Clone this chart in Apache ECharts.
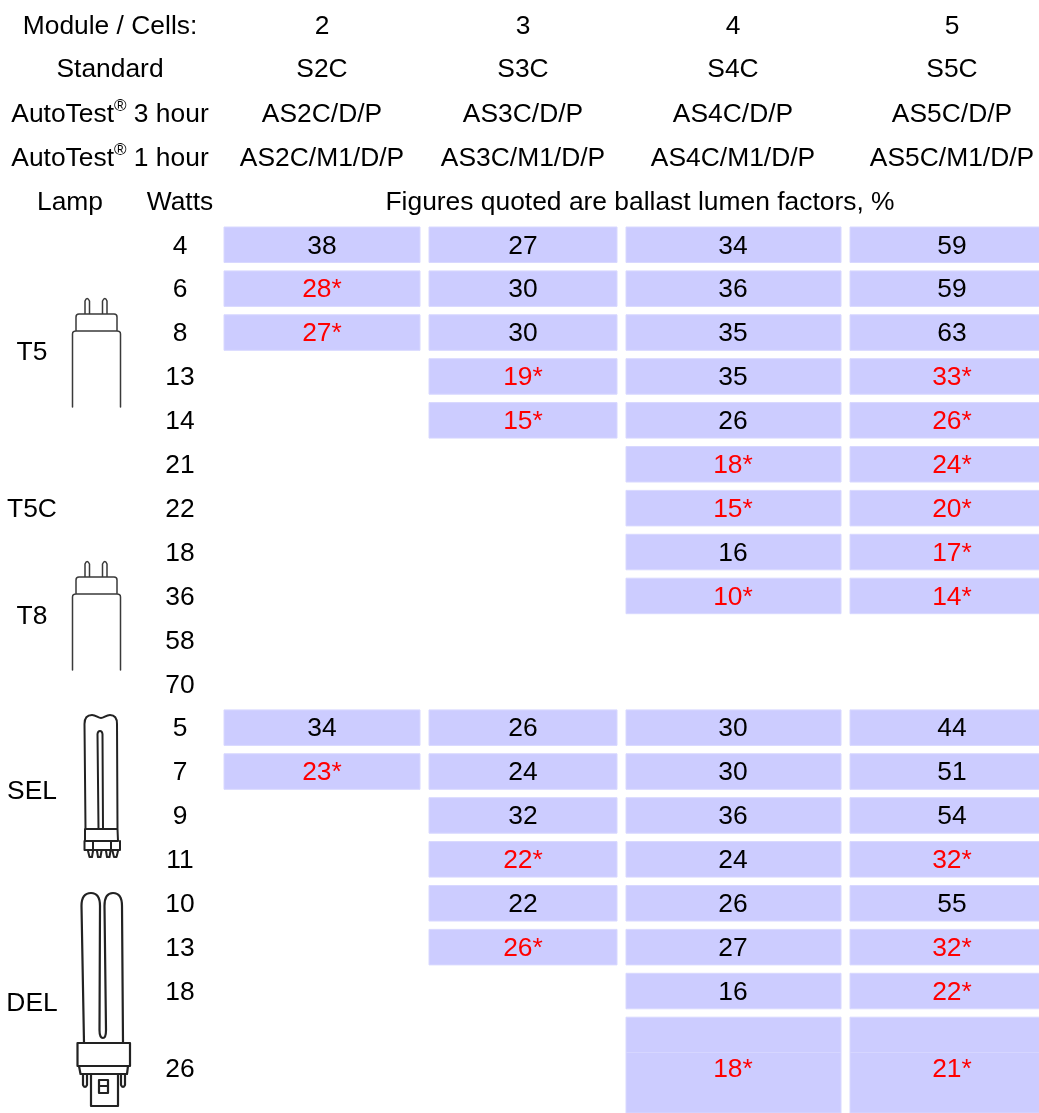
<!DOCTYPE html>
<html><head><meta charset="utf-8">
<style>html,body{margin:0;padding:0;background:#fff;overflow:hidden}#c{width:1039px;height:1113px}</style>
<script src="https://cdn.jsdelivr.net/npm/echarts@6/dist/echarts.min.js"></script>
</head><body><div id="c"></div>
<script>
// ---- table content ----
const moduleCells = ['2','3','4','5'];
const standard = ['S2C','S3C','S4C','S5C'];
const autoTest3 = ['AS2C/D/P','AS3C/D/P','AS4C/D/P','AS5C/D/P'];
const autoTest1 = ['AS2C/M1/D/P','AS3C/M1/D/P','AS4C/M1/D/P','AS5C/M1/D/P'];
const watts = [4,6,8,13,14,21,22,18,36,58,70,5,7,9,11,10,13,18,26];
const s2c = ['38','28*','27*',null,null,null,null,null,null,null,null,'34','23*',null,null,null,null,null,null];
const s3c = ['27','30','30','19*','15*',null,null,null,null,null,null,'26','24','32','22*','22','26*',null,null];
const s4c = ['34','36','35','35','26','18*','15*','16','10*',null,null,'30','30','36','24','26','27','16','18*'];
const s5c = ['59','59','63','33*','26*','24*','20*','17*','14*',null,null,'44','51','54','32*','55','32*','22*','21*'];
const lamps = ['T5','T5C','T8','SEL','DEL'];

// ---- layout (page units of the hidden axes) ----
const colLeft = [224,429,626,850], colRight = [420,617,841,1054];
const colText = [322,523,733,952];
const rowTop = i => 227 + 43.9*i;
const rowTextY = r => r===18 ? 1068 : rowTop(r)+17.8;
const headerY = [25,68,113,157,201];
const lampY = [351,508,615,790,1002];
const FONT = '"Liberation Sans", Arial, sans-serif';
const FS = 26.4;
const DY = 1.5;
const tables = [s2c,s3c,s4c,s5c];

const cellData = [];
tables.forEach((t,c)=>t.forEach((v,r)=>{ if(v!==null) cellData.push([c,r,v]); }));

const textData = [];
function addText(x,y,t){ textData.push([x,y,t]); }
addText(110,headerY[0],'Module / Cells:');
addText(110,headerY[1],'Standard');
addText(110,headerY[2],'{a|AutoTest}{s|®}{a| 3 hour}');
addText(110,headerY[3],'{a|AutoTest}{s|®}{a| 1 hour}');
addText(70,headerY[4],'Lamp');
addText(180,headerY[4],'Watts');
addText(640,headerY[4],'Figures quoted are ballast lumen factors, %');
[moduleCells,standard,autoTest3,autoTest1].forEach((arr,i)=>arr.forEach((t,c)=>addText(colText[c],headerY[i],t)));
lamps.forEach((t,i)=>addText(32,lampY[i],t));
watts.forEach((w,r)=>addText(180, rowTextY(r), String(w)));

function txt(x,y,text,fill){
  const isRich = text.charAt(0)==='{';
  return {type:'text',silent:true,style:{x,y:isRich?y:y+DY,text,fill,font:FS+'px '+FONT,align:'center',verticalAlign:'middle',
    rich:{a:{font:FS+'px '+FONT,fill,verticalAlign:'bottom',lineHeight:30},
          s:{font:'17px '+FONT,fill,verticalAlign:'top',lineHeight:30}}}};
}
function renderCell(params,api){
  const c=api.value(0), r=api.value(1), v=cellData[params.dataIndex][2];
  const last = r===18;
  const top=api.coord([colLeft[c],rowTop(r)]);
  const br=api.coord([colRight[c], last?1113:rowTop(r)+35.5]);
  const children=[{type:'rect',shape:{x:top[0],y:top[1],width:br[0]-top[0],height:br[1]-top[1]},
    style:{fill:'#ccccff',stroke:'#d8d8ff',lineWidth:1}}];
  if(last){
    const m=api.coord([colLeft[c],1052.5]);
    children.push({type:'line',shape:{x1:top[0],y1:m[1],x2:br[0],y2:m[1]},style:{stroke:'#d6d6ff',lineWidth:1}});
  }
  const t=api.coord([colText[c], rowTextY(r)]);
  children.push(txt(t[0],t[1],String(v), String(v).endsWith('*')?'#ff0000':'#000000'));
  return {type:'group',children};
}
function renderText(params,api){
  const p=api.coord([api.value(0),api.value(1)]);
  return txt(p[0],p[1],textData[params.dataIndex][2],'#000000');
}

// ---- lamp drawings ----
const tube = (y)=>`M72.5 ${y+76} L72.5 ${y+3} Q72.5 ${y} 76 ${y} L117 ${y} Q120.5 ${y} 120.5 ${y+3} L120.5 ${y+76}`+
  ` M76 ${y} L76 ${y-14} Q76 ${y-17} 79 ${y-17} L114 ${y-17} Q117 ${y-17} 117 ${y-14} L117 ${y}`+
  ` M85 ${y-17} L85 ${y-30} Q87 ${y-35} 89.5 ${y-30} L89.5 ${y-17} M102.5 ${y-17} L102.5 ${y-30} Q105 ${y-35} 107 ${y-30} L107 ${y-17}`;
const sel = 'M85.5 829 L84.5 724 C84.5 717 88 715 92 715 C96 715 98 718 101 718 C104 718 106 715 110 715 C114 715 117 717 117 724 L117.5 829'+
  ' M98.5 829 L97.5 734 C98 730 102 730 102.5 734 L103 829 M85 829 L117.5 829 L118 841 L85 841 Z'+
  ' M84.5 841 L84.5 850 L120 850 L120 841 M93 841 L93 850 M111 841 L111 850'+
  ' M88 851 L89.5 857 L92 857 L93 851 M97 851 L98 857 L100.5 857 L101.5 851 M106 851 L107 857 L109.5 857 L110.5 851 M112.5 851 L114 857 L116.5 857 L118 851';
const del = 'M84 1043 L81.5 906 C81.5 897 85 893 91 893 C97 893 100 897 100 906 L99.5 1030 C99.5 1036 101 1038 103 1038 C105 1038 106 1036 106 1030 L104.5 906 C104.5 897 107 893 113 893 C119 893 122 897 122 906 L123 1043'+
  ' M77.5 1043 L130 1043 L130 1066 L77.5 1066 Z M79 1066 L80.5 1074 L127 1074 L128 1066'+
  ' M83 1074 L83 1085 Q85 1089 87 1085 L87 1074 M121 1074 L121 1085 Q123 1089 125 1085 L125 1074'+
  ' M91 1074 L91 1106 L118 1106 L118 1074 M99 1080 L108 1080 L108 1093 L99 1093 Z M99 1086 L108 1086';
const drawings = [[tube(331),1.5,'#3a3a3a'],[tube(594),1.5,'#3a3a3a'],[sel,2,'#222'],[del,2.2,'#222']];
function renderLamp(params){
  const d=drawings[params.dataIndex];
  return {type:'path',silent:true,shape:{pathData:d[0]},style:{fill:null,stroke:d[2],lineWidth:d[1],lineJoin:'round',lineCap:'round'}};
}

const chart=echarts.init(document.getElementById('c'),null,{renderer:'canvas'});
chart.setOption({
  animation:false,
  backgroundColor:'#ffffff',
  grid:{left:0,right:0,top:0,bottom:0},
  xAxis:{type:'value',min:0,max:1039,show:false},
  yAxis:{type:'value',min:0,max:1113,inverse:true,show:false},
  series:[
    {type:'custom',clip:false,silent:true,renderItem:renderCell,data:cellData.map(d=>[d[0],d[1]])},
    {type:'custom',clip:false,silent:true,renderItem:renderText,data:textData.map(d=>[d[0],d[1]])},
    {type:'custom',clip:false,silent:true,renderItem:renderLamp,data:drawings.map((d,i)=>[i,0])}
  ]
});
</script></body></html>
